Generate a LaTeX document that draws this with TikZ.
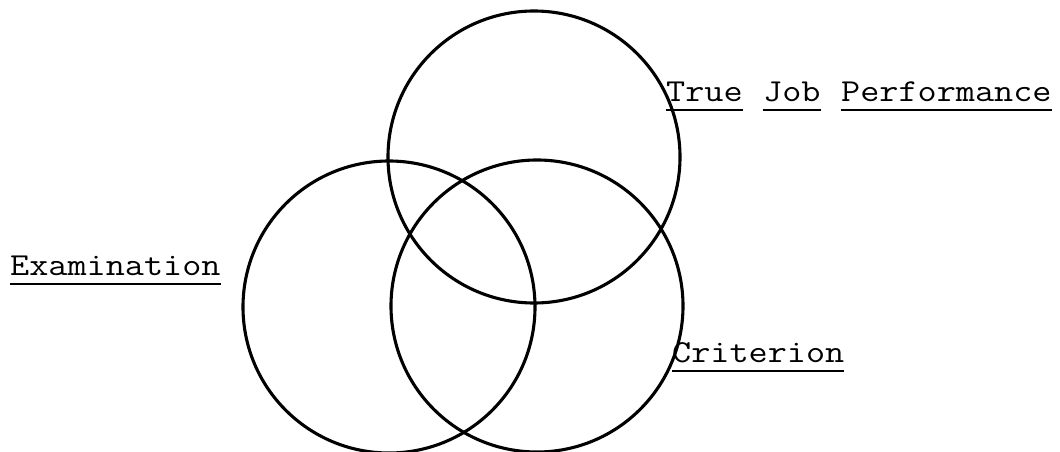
\documentclass[tikz,border=0pt]{standalone}
\usepackage{graphicx}
\newcommand{\tw}[1]{\scalebox{1.16}[1]{\ttfamily\fontsize{32}{36}\selectfont #1}}
\begin{document}
\begin{tikzpicture}[x=1pt,y=-1pt,
  vc/.style={draw=black,circle,line width=3.1pt,minimum size=292pt,inner sep=0pt},
  lbl/.style={anchor=base west,inner sep=0pt,text=black},
  ul/.style={draw=black,line width=2.4pt}]
\useasboundingbox[fill=white] (0,0) rectangle (1060,452);
\node[vc] (job) at (534,157) {};
\node[vc] (exam) at (389,307) {};
\node[vc] (crit) at (537,306) {};
\node[lbl] (t1) at (666,101) {\tw{True}};
\node[lbl] (t2) at (763,101) {\tw{Job}};
\node[lbl] (t3) at (841,101) {\tw{Performance}};
\node[lbl] (ex) at (10,275) {\tw{Examination}};
\node[lbl] (cr) at (672,362) {\tw{Criterion}};
\foreach \n in {t1,t2,t3,ex,cr}
  \draw[ul] ([yshift=-9pt]\n.base west) -- ([yshift=-9pt]\n.base east);
\end{tikzpicture}
\end{document}
